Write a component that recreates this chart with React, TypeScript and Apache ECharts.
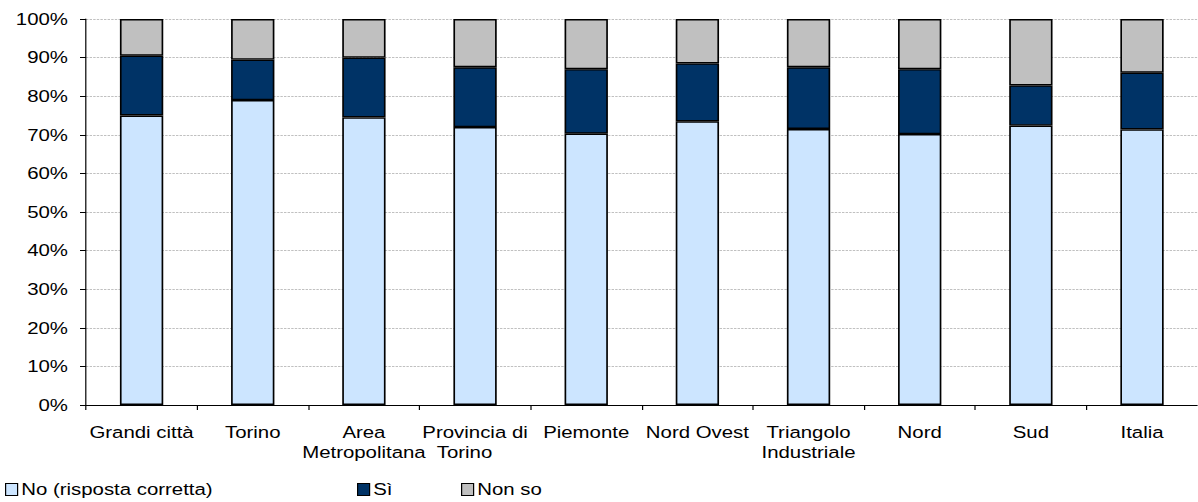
import React, { useEffect, useRef } from "react";
import * as echarts from "echarts";

// Area categories (line breaks as printed under the axis)
const categories = [
  "Grandi città",
  "Torino",
  "Area\nMetropolitana",
  "Provincia di\nTorino",
  "Piemonte",
  "Nord Ovest",
  "Triangolo\nIndustriale",
  "Nord",
  "Sud",
  "Italia",
];

// Share of answers, in percent
const noValues = [75, 79, 74.5, 72, 70.3, 73.5, 71.5, 70.2, 72.4, 71.4];
const siValues = [15.5, 10.5, 15.5, 15.5, 16.7, 15, 16, 16.8, 10.4, 14.7];
const nonSoValues = [9.5, 10.5, 10, 12.5, 13, 11.5, 12.5, 13, 17.2, 13.9];

const seriesNames = ["No (risposta corretta)", "Sì", "Non so"];
const seriesColors = ["#CCE5FF", "#003366", "#C0C0C0"];

// The chart is laid out on a narrower canvas and stretched horizontally,
// which gives the wide, flat lettering of the original spreadsheet chart.
const STRETCH = 1.2;
const PAGE_W = 1198;
const PAGE_H = 502;
const INNER_W = PAGE_W / STRETCH;

const FONT = "'Liberation Sans', Arial, Helvetica, sans-serif";

export default function App() {
  const ref = useRef<HTMLDivElement | null>(null);

  useEffect(() => {
    if (!ref.current) return;
    const chart = echarts.init(ref.current, undefined, { renderer: "svg" });

    const px = (pageX: number) => pageX / STRETCH;

    const legendBase = {
      top: 481,
      padding: 0,
      itemWidth: px(12),
      itemHeight: 12,
      itemGap: 0,
      icon: "rect",
      textStyle: { fontFamily: FONT, fontSize: 17, color: "#000", padding: [0, 0, 0, -2] },
      selectedMode: false as const,
    };

    const lefts = [px(5), px(357), px(461)];

    const series = [noValues, siValues, nonSoValues].map((vals, i) => ({
      name: seriesNames[i],
      type: "bar" as const,
      stack: "total",
      barWidth: "39%",
      data: vals,
      itemStyle: {
        color: seriesColors[i],
        borderColor: "#000",
        borderWidth: 1.4,
      },
      emphasis: { disabled: true },
    }));

    chart.setOption({
      animation: false,
      backgroundColor: "#fff",
      textStyle: { fontFamily: FONT },
      legend: seriesNames.map((name, i) => ({
        ...legendBase,
        left: lefts[i],
        data: [
          {
            name,
            itemStyle: { color: seriesColors[i], borderColor: "#000", borderWidth: 1 },
          },
        ],
      })),
      grid: {
        left: px(86),
        right: INNER_W - px(1207),
        top: 19,
        bottom: PAGE_H - 405,
        containLabel: false,
      },
      xAxis: {
        type: "category",
        data: categories,
        boundaryGap: true,
        axisLine: { lineStyle: { color: "#000", width: 1 } },
        axisTick: { show: true, length: 5, lineStyle: { color: "#000" } },
        axisLabel: {
          interval: 0,
          margin: 17,
          fontFamily: FONT,
          fontSize: 17,
          lineHeight: 20,
          color: "#000",
          formatter: (v: string) =>
            v === "Provincia di\nTorino" ? "Provincia di\n{l|Torino}" : v,
          rich: {
            l: {
              align: "left",
              padding: [0, 0, 0, 12],
              fontFamily: FONT,
              fontSize: 17,
              lineHeight: 20,
              color: "#000",
            },
          },
        },
        splitLine: { show: false },
      },
      yAxis: {
        type: "value",
        min: 0,
        max: 100,
        interval: 10,
        axisLine: { show: true, lineStyle: { color: "#000", width: 1 } },
        axisTick: { show: true, length: 5, lineStyle: { color: "#000" } },
        axisLabel: {
          margin: px(18),
          fontFamily: FONT,
          fontSize: 17,
          color: "#000",
          formatter: "{value}%",
        },
        splitLine: {
          show: true,
          lineStyle: { color: "#c0c0c0", width: 1, type: [2, 1] },
        },
      },
      series,
    });

    return () => {
      chart.dispose();
    };
  }, []);

  return (
    <div
      style={{
        position: "fixed",
        left: 0,
        top: 0,
        width: PAGE_W,
        height: PAGE_H,
        overflow: "hidden",
        background: "#fff",
      }}
    >
      <div
        ref={ref}
        style={{
          width: INNER_W,
          height: PAGE_H,
          transform: `scaleX(${STRETCH})`,
          transformOrigin: "0 0",
        }}
      />
    </div>
  );
}
